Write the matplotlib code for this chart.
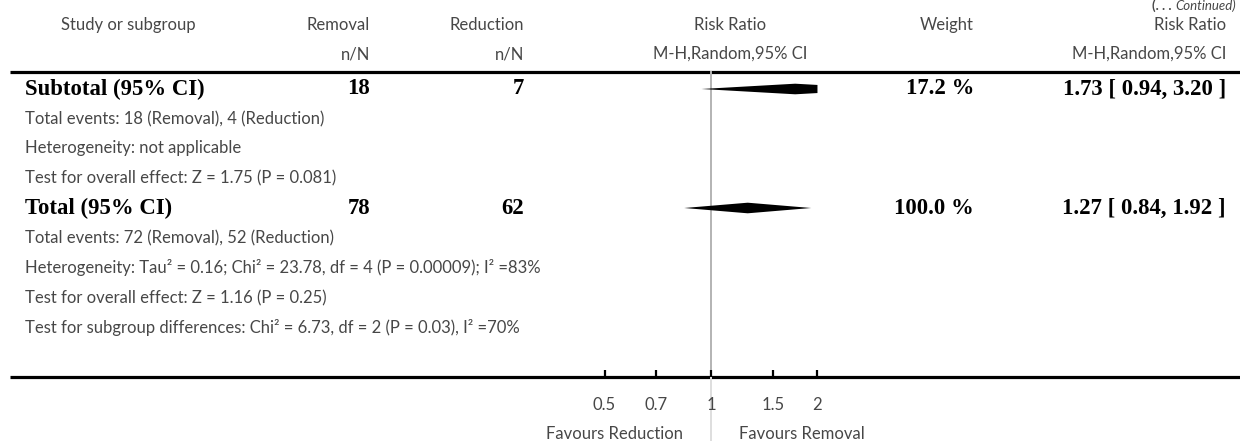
import numpy as np
import matplotlib
matplotlib.use('Agg')
import matplotlib.pyplot as plt
from matplotlib.patches import Polygon

# column headers
head_top = ['Study or subgroup', 'Removal', 'Reduction', 'Risk Ratio', 'Weight', 'Risk Ratio']
head_sub = ['', 'n/N', 'n/N', 'M-H,Random,95% CI', '', 'M-H,Random,95% CI']

# pooled estimates
pooled_names = ['Subtotal (95% CI)', 'Total (95% CI)']
pooled_removal = [18, 78]
pooled_reduction = [7, 62]
pooled_weight = [17.2, 100.0]
pooled_rr = [1.73, 1.27]
pooled_lo = [0.94, 0.84]
pooled_hi = [3.20, 1.92]

subtotal_notes = ['Total events: 18 (Removal), 4 (Reduction)',
                  'Heterogeneity: not applicable',
                  'Test for overall effect: Z = 1.75 (P = 0.081)']
total_notes = ['Total events: 72 (Removal), 52 (Reduction)',
               'Heterogeneity: Tau² = 0.16; Chi² = 23.78, df = 4 (P = 0.00009); I² =83%',
               'Test for overall effect: Z = 1.16 (P = 0.25)',
               'Test for subgroup differences: Chi² = 6.73, df = 2 (P = 0.03), I² =70%']

ticks = [0.5, 0.7, 1, 1.5, 2]
tick_labels = ['0.5', '0.7', '1', '1.5', '2']
favours = ['Favours Reduction', 'Favours Removal']

W, H = 1240, 441
sans = dict(family='Lato', weight='normal', color='#474747', fontsize=12)
serif = dict(family='Liberation Serif', weight='bold', color='black', fontsize=16.4)

fig = plt.figure(figsize=(W / 100, H / 100), dpi=100)

# text/table layer in pixel units
tab = fig.add_axes([0, 0, 1, 1])
tab.set_xlim(0, W)
tab.set_ylim(H, 0)
tab.axis('off')

# forest layer: log risk ratio, 1 sits at x=711, 153.6 px per log unit
fp = fig.add_axes([0, 0, 1, 1])
fp.set_xscale('log')
fp.set_xlim(np.exp(-711 / 153.6), np.exp((W - 711) / 153.6))
fp.set_ylim(H, 0)
fp.axis('off')
fp.patch.set_alpha(0)

# headers
cols_x = [128, 370, 524, 730, 974, 1226]
cols_ha = ['center', 'right', 'right', 'center', 'right', 'right']
for x, ha, t1, t2 in zip(cols_x, cols_ha, head_top, head_sub):
    tab.text(x, 25, t1, ha=ha, va='center', **sans)
    if t2:
        tab.text(x, 54, t2, ha=ha, va='center', **sans)

tab.text(1172, 6, '(. . .', ha='right', va='center', family='Lato', weight='bold',
         fontsize=9.5, color='#474747')
tab.text(1236, 6, 'Continued)', ha='right', va='center', family='Lato', style='italic',
         fontsize=9.5, color='#474747')

tab.plot([10, W], [72, 72], color='black', lw=2.3, solid_capstyle='butt')

# pooled rows with their notes underneath
row_y = [89, 208]
note_y = [[119, 148, 178], [238, 268, 298, 327]]
notes = [subtotal_notes, total_notes]
xmax = ticks[-1]
h = 5.3
for i in range(2):
    y = row_y[i]
    tab.text(25, y, pooled_names[i], ha='left', va='center', **serif)
    tab.text(370, y, str(pooled_removal[i]), ha='right', va='center', **serif)
    tab.text(524, y, str(pooled_reduction[i]), ha='right', va='center', **serif)
    tab.text(974, y, '%.1f %%' % pooled_weight[i], ha='right', va='center', **serif)
    tab.text(1226, y, '%.2f [ %.2f, %.2f ]' % (pooled_rr[i], pooled_lo[i], pooled_hi[i]),
             ha='right', va='center', **serif)
    for ny, note in zip(note_y[i], notes[i]):
        tab.text(25, ny, note, ha='left', va='center', **sans)

    lo, est, hi = pooled_lo[i], pooled_rr[i], pooled_hi[i]
    if hi > xmax:
        # truncate the diamond at the edge of the scale
        hh = h * (np.log(hi) - np.log(xmax)) / (np.log(hi) - np.log(est))
        verts = [(lo, y), (est, y - h), (xmax, y - hh), (xmax, y + hh), (est, y + h)]
    else:
        verts = [(lo, y), (est, y - h), (hi, y), (est, y + h)]
    fp.add_patch(Polygon(verts, closed=True, facecolor='black', edgecolor='none'))

# line of no effect
fp.plot([1, 1], [72, 377], color='#b3b3b3', lw=1.4, zorder=0)
fp.plot([1, 1], [377, H], color='#dedede', lw=1.4, zorder=0)

# axis
tab.plot([10, W], [377, 377], color='black', lw=2.3, solid_capstyle='butt')
fp.vlines(ticks, 370, 377, color='black', lw=1.6)
for t, lab in zip(ticks, tick_labels):
    fp.text(t, 405, lab, ha='center', va='center', **sans)
fp.text(0.835, 434, favours[0], ha='right', va='center', **sans)
fp.text(1.2, 434, favours[1], ha='left', va='center', **sans)

fig.savefig('out.png', dpi=100)
